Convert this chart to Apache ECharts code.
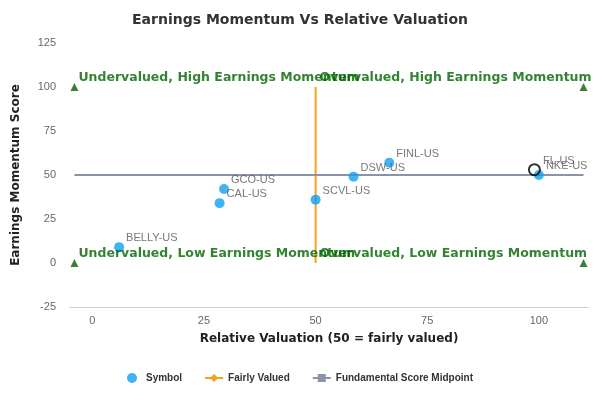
<!DOCTYPE html>
<html><head><meta charset="utf-8">
<script src="https://cdn.jsdelivr.net/npm/echarts@6/dist/echarts.min.js"></script>
<style>html,body{margin:0;padding:0;background:#fff}#c{width:600px;height:400px}</style>
</head><body><div id="c"></div>
<script>
const symbols = ['BELLY-US','CAL-US','GCO-US','SCVL-US','DSW-US','FINL-US','NKE-US'];
const valuation = [6, 28.5, 29.5, 50, 58.5, 66.5, 100];
const momentum = [9, 34, 42, 36, 49, 57, 50];
const highlight = {name:'FL-US', x:99, y:53};
const xTicks = [0,25,50,75,100];
const cornerX = [-4, 110];
const cornerY = [0, 100];
const fairLine = [[50,0],[50,100]];
const midLine = [[-4,50],[110,50]];
const quadrantText = [
 {t:'Undervalued, High Earnings Momentum', x:-4, y:100},
 {t:'Overvalued, High Earnings Momentum', x:50, y:100},
 {t:'Undervalued, Low Earnings Momentum', x:-4, y:0},
 {t:'Overvalued, Low Earnings Momentum', x:50, y:0}
];
const chart = echarts.init(document.getElementById('c'));
const corners = [];
cornerX.forEach(x=>cornerY.forEach(y=>corners.push([x,y])));
chart.setOption({
 animation:false,
 title:{text:'Earnings Momentum Vs Relative Valuation',left:'center',top:8,textStyle:{fontSize:14,fontWeight:'bold',color:'#333',fontFamily:'DejaVu Sans'}},
 grid:{left:70,right:12,top:43,bottom:93},
 xAxis:{type:'value',min:-5,max:111,name:'Relative Valuation (50 = fairly valued)',nameLocation:'middle',nameGap:26,
  nameTextStyle:{fontWeight:'bold',fontSize:12,color:'#222',fontFamily:'DejaVu Sans'},
  axisLine:{onZero:false,lineStyle:{color:'#c0d0e0'}},axisTick:{show:false},splitLine:{show:false},
  axisLabel:{color:'#666',fontSize:11,customValues:xTicks}},
 yAxis:{type:'value',min:-25,max:125,interval:25,name:'Earnings Momentum Score',nameLocation:'middle',nameGap:48,
  nameTextStyle:{fontWeight:'bold',fontSize:12,color:'#222',fontFamily:'DejaVu Sans'},
  axisLine:{show:false},axisTick:{show:false},splitLine:{show:false},axisLabel:{color:'#666',fontSize:11,margin:14}},
 legend:{bottom:12,left:'center',itemGap:22,itemWidth:18,itemHeight:10,textStyle:{fontWeight:'bold',fontSize:10,color:'#333'},
  data:[{name:'Symbol',icon:'circle'},'Fairly Valued','Fundamental Score Midpoint']},
 series:[
  {name:'Fairly Valued',type:'line',data:fairLine,symbol:'diamond',showSymbol:false,lineStyle:{color:'#f7a21b',width:2},itemStyle:{color:'#f7a21b'},z:2},
  {name:'Fundamental Score Midpoint',type:'line',data:midLine,symbol:'rect',showSymbol:false,lineStyle:{color:'#8a93a8',width:2},itemStyle:{color:'#8a93a8'},z:2},
  {name:'corners',type:'scatter',data:corners,symbol:'triangle',symbolSize:8,itemStyle:{color:'#0a5f0a'},z:3},
  {name:'Symbol',type:'scatter',symbolSize:10,itemStyle:{color:'#10a0f0'},z:4,
   data:symbols.map((s,i)=>({name:s,value:[valuation[i],momentum[i]]})),
   label:{show:true,formatter:'{b}',position:'right',offset:[-3,-9],color:'#555',fontSize:11}},
  {name:'hl',type:'scatter',symbolSize:11,itemStyle:{color:'rgba(0,0,0,0)',borderColor:'#000',borderWidth:2},z:5,
   data:[{name:highlight.name,value:[highlight.x,highlight.y]}],
   label:{show:true,formatter:'{b}',position:'right',offset:[-3,-9],color:'#555',fontSize:11}},
  {name:'text',type:'scatter',symbolSize:0,z:6,silent:true,
   data:quadrantText.map(q=>({name:q.t,value:[q.x,q.y]})),
   label:{show:true,formatter:'{b}',position:'right',offset:[-1,-9],color:'#006400',fontWeight:'bold',fontSize:12.5,fontFamily:'DejaVu Sans'}}
 ]
});
</script></body></html>
